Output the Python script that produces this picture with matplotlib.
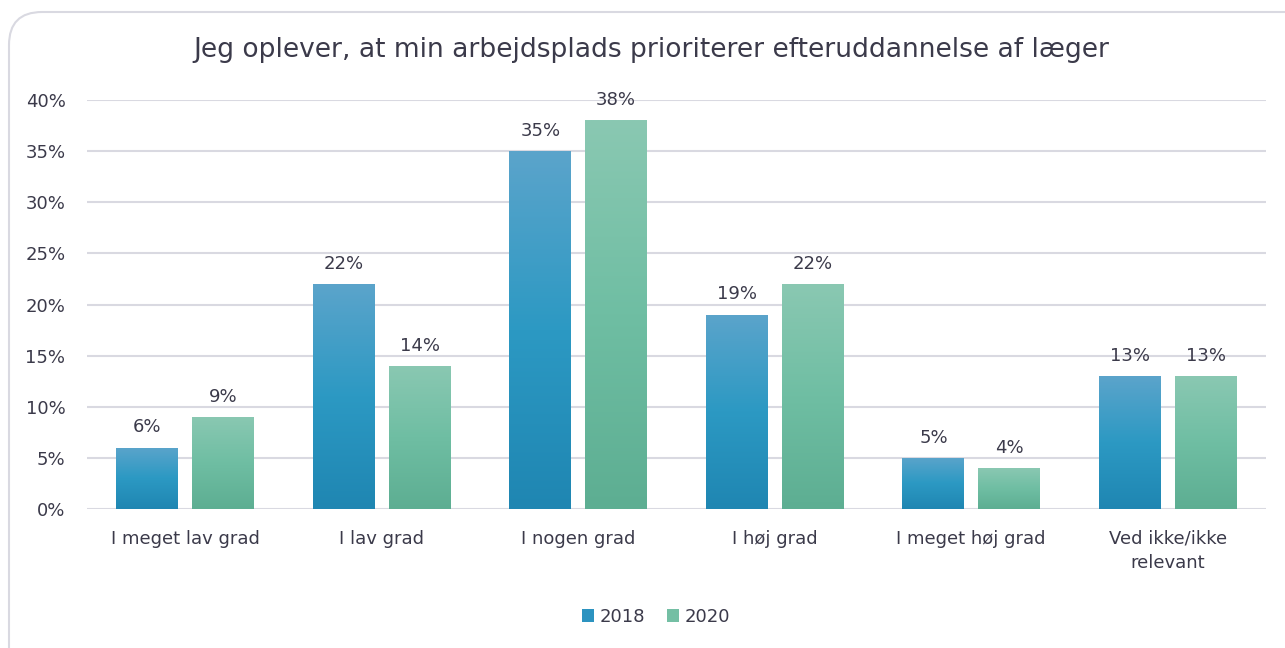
import matplotlib
matplotlib.use("Agg")
import matplotlib.pyplot as plt
import numpy as np
from matplotlib.patches import FancyBboxPatch, Rectangle
from matplotlib.colors import LinearSegmentedColormap

categories = ["I meget lav grad", "I lav grad", "I nogen grad", "I høj grad",
              "I meget høj grad", "Ved ikke/ikke\nrelevant"]
series_names = ["2018", "2020"]
values_2018 = [6, 22, 35, 19, 5, 13]
values_2020 = [9, 14, 38, 22, 4, 13]
yticks = [0, 5, 10, 15, 20, 25, 30, 35, 40]
title = "Jeg oplever, at min arbejdsplads prioriterer efteruddannelse af læger"

text_color = "#3b3a4a"
grid_color = "#d9d9e1"
plt.rcParams['font.family'] = ['DejaVu Sans']

fig = plt.figure(figsize=(12.85, 6.48), dpi=100)
W, H = 1285, 648
ax = fig.add_axes([87 / W, 1 - 509 / H, (1266 - 87) / W, (509 - 100) / H])

# rounded border (inches coordinates)
border = FancyBboxPatch((0.09, -0.5), 13.5, 6.36 + 0.5,
                        boxstyle="round,pad=0,rounding_size=0.33",
                        transform=fig.dpi_scale_trans, fill=False,
                        edgecolor=grid_color, linewidth=1.5, zorder=0)
fig.patches.append(border)

x = np.arange(len(categories))
bw = 0.315
gap = 0.07
off = (bw + gap) / 2

cmap18 = LinearSegmentedColormap.from_list("c18", ["#1f86b2", "#2c99c3", "#5ba4cb"])
cmap20 = LinearSegmentedColormap.from_list("c20", ["#5dae92", "#6fbea3", "#8ac8b2"])
grad = np.linspace(0, 1, 256).reshape(-1, 1)

def gbar(xc, h, cmap):
    rect = Rectangle((xc - bw / 2, 0), bw, h, facecolor="none", edgecolor="none")
    ax.add_patch(rect)
    im = ax.imshow(grad, extent=[xc - bw / 2, xc + bw / 2, 0, h], origin="lower",
                   cmap=cmap, aspect="auto", zorder=3)
    im.set_clip_path(rect)

fs = 13
for i in range(len(categories)):
    gbar(x[i] - off, values_2018[i], cmap18)
    gbar(x[i] + off, values_2020[i], cmap20)
    ax.text(x[i] - off, values_2018[i] + 1.1, f"{values_2018[i]}%", ha="center",
            va="bottom", fontsize=fs, color=text_color)
    ax.text(x[i] + off, values_2020[i] + 1.1, f"{values_2020[i]}%", ha="center",
            va="bottom", fontsize=fs, color=text_color)

ax.set_xlim(-0.5, len(categories) - 0.5)
ax.set_ylim(0, 40)
ax.set_yticks(yticks)
ax.set_yticklabels([f"{v}%" for v in yticks])
ax.set_xticks(x)
ax.set_xticklabels(categories, linespacing=1.45)
ax.tick_params(axis="both", length=0, labelsize=fs, colors=text_color)
ax.tick_params(axis="y", pad=15.5)
ax.tick_params(axis="x", pad=15)
for s in ax.spines.values():
    s.set_visible(False)
ax.yaxis.grid(True, color=grid_color, linewidth=1.5, zorder=0)
ax.set_axisbelow(True)

fig.text(651 / W, 1 - 50 / H, title, fontsize=19.1, color=text_color,
         ha="center", va="center")

handles = [Rectangle((0, 0), 1, 1, facecolor="#2c93c0"),
           Rectangle((0, 0), 1, 1, facecolor="#74bfa4")]
fig.legend(handles, series_names, loc="center", bbox_to_anchor=(656 / W, 1 - 617 / H),
           ncol=2, frameon=False, fontsize=fs, handlelength=0.7, handleheight=0.7,
           handletextpad=0.3, columnspacing=1.2, labelcolor=text_color)

fig.savefig("out.png", dpi=100)
